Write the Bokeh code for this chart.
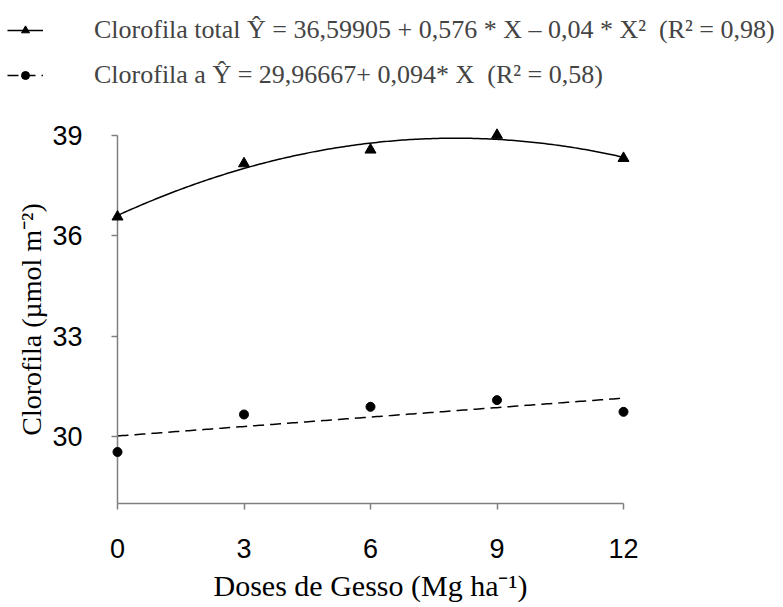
import numpy as np
from bokeh.plotting import figure
from bokeh.models import Range1d, Legend, LegendItem, FixedTicker
from bokeh.embed import file_html
from bokeh.resources import INLINE

# ---- data ----
doses = [0, 3, 6, 9, 12]
clor_total = [36.57, 38.16, 38.57, 39.01, 38.32]
clor_a = [29.54, 30.66, 30.89, 31.09, 30.74]
x_ticks = [0, 3, 6, 9, 12]
y_ticks = [30, 33, 36, 39]
label_total = "Clorofila total Ŷ = 36,59905 + 0,576 * X – 0,04 * X²  (R² = 0,98)"
label_a = "Clorofila a Ŷ = 29,96667+ 0,094* X  (R² = 0,58)"
x_title = "Doses de Gesso (Mg ha⁻¹)"
y_title = "Clorofila (µmol m⁻²)"

# regression curves derived from the data
c2 = np.polyfit(doses, clor_total, 2)
c1 = np.polyfit(doses, clor_a, 1)
fx = np.linspace(min(doses), max(doses), 200)
fy_total = np.polyval(c2, fx)
fy_a = np.polyval(c1, fx)

# ---------- legend strip (its own root, so its frame is the whole strip) ----------
leg = figure(width=775, height=100, x_range=Range1d(0, 1), y_range=Range1d(0, 1),
             x_axis_type=None, y_axis_type=None, output_backend="svg",
             toolbar_location=None, min_border=0)
leg.outline_line_color = None
# legend swatches use the same styles as the chart; their data lie outside the strip's ranges
g1l = leg.line(doses, clor_total, line_color="black", line_width=1.5)
g1s = leg.scatter(doses, clor_total, marker="triangle", size=11, color="black")
g2l = leg.line(doses, clor_a, line_color="black", line_width=1.5, line_dash="11 6")
g2s = leg.scatter(doses, clor_a, marker="circle", size=9, color="black")
legend = Legend(items=[LegendItem(label=label_total, renderers=[g1l, g1s]),
                       LegendItem(label=label_a, renderers=[g2l, g2s])],
                location=(7, 10),
                border_line_color=None, background_fill_alpha=0,
                padding=0, margin=0, spacing=15,
                glyph_width=36, glyph_height=20, label_standoff=51,
                label_text_font="Liberation Serif", label_text_font_size="26px")
leg.add_layout(legend)

# ---------- main chart ----------
p = figure(frame_width=506, frame_height=368,
           x_range=Range1d(0, 12), y_range=Range1d(28, 39),
           output_backend="svg", toolbar_location=None,
           min_border_left=117, min_border_top=35,
           min_border_right=149, min_border_bottom=100)
p.outline_line_color = None
p.xgrid.grid_line_color = None
p.ygrid.grid_line_color = None

p.line(fx, fy_total, line_color="black", line_width=1.5)
p.scatter(doses, clor_total, marker="triangle", size=11, color="black", level="overlay")
p.line(fx, fy_a, line_color="black", line_width=1.5, line_dash="11 6")
p.scatter(doses, clor_a, marker="circle", size=9, color="black", level="overlay")

axis_col = "#7f7f7f"
for ax in (p.xaxis, p.yaxis):
    ax.axis_line_color = axis_col
    ax.axis_line_width = 1.5
    ax.major_tick_line_color = axis_col
    ax.major_tick_line_width = 1.5
    ax.major_tick_in = 0
    ax.major_tick_out = 6
    ax.minor_tick_line_color = None
    ax.major_label_text_font = "Liberation Sans"
    ax.major_label_text_font_size = "27px"
    ax.major_label_text_color = "black"
    ax.axis_label_text_font = "Liberation Serif"
    ax.axis_label_text_font_style = "normal"
    ax.axis_label_text_color = "black"

p.xaxis.axis_label_text_font_size = "30px"
p.yaxis.axis_label_text_font_size = "28px"
p.xaxis.ticker = FixedTicker(ticks=x_ticks)
p.yaxis.ticker = FixedTicker(ticks=y_ticks)
p.xaxis.axis_label = x_title
p.yaxis.axis_label = y_title
p.xaxis.major_label_standoff = 29
p.yaxis.major_label_standoff = 29
p.xaxis.axis_label_standoff = 8
p.yaxis.axis_label_standoff = 2

open("out.html", "w").write(file_html([leg, p], INLINE))
